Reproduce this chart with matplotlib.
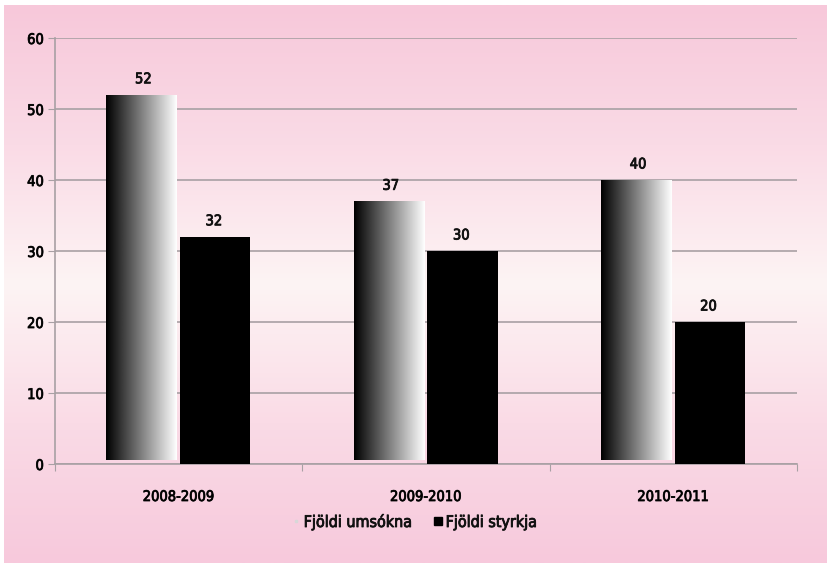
import matplotlib
matplotlib.use("Agg")
import matplotlib.pyplot as plt
import numpy as np
from matplotlib.colors import LinearSegmentedColormap
from matplotlib.lines import Line2D
import matplotlib.patheffects as pe

plt.rcParams['font.family'] = ['DejaVu Sans']
plt.rcParams['font.stretch'] = 'condensed'
plt.rcParams['text.color'] = '#111111'

categories = ["2008-2009", "2009-2010", "2010-2011"]
umsokna = [52, 37, 40]
styrkja = [32, 30, 20]
series_names = ["Fjöldi umsókna", "Fjöldi styrkja"]
yticks = [0, 10, 20, 30, 40, 50, 60]

FS = 10.5
# slightly heavier strokes, like a medium weight
heavy = [pe.withStroke(linewidth=0.6, foreground="#111111")]

fig = plt.figure(figsize=(8.28, 5.63), dpi=100, facecolor="white")

# pink background gradient (pink top/bottom, almost white in the middle)
bg = fig.add_axes([4 / 828, 0, 1 - 4 / 828, 1 - 5 / 563], zorder=-10)
bg_cmap = LinearSegmentedColormap.from_list(
    "bg", [(0, "#f7c8da"), (0.25, "#fadbe6"), (0.5, "#fdf4f4"),
           (0.75, "#fadbe6"), (1, "#f7c9dc")])
bg.imshow(np.linspace(0, 1, 256).reshape(-1, 1), aspect="auto",
          cmap=bg_cmap, extent=[0, 1, 0, 1])
bg.axis("off")

ax = fig.add_axes([55 / 828, 1 - 464 / 563, 742 / 828, (464 - 38) / 563])
ax.patch.set_alpha(0)

x = np.arange(len(categories))
w = 0.285
grad_cmap = LinearSegmentedColormap.from_list("bar", ["#000000", "#ffffff"])
grad = np.linspace(0, 1, 256).reshape(1, -1)

for xi, v in zip(x, umsokna):
    left = xi - w - 0.008
    b = ax.bar(left, v - 0.55, width=w, bottom=0.55, align="edge",
               color="none", edgecolor="none", zorder=3)[0]
    im = ax.imshow(grad, aspect="auto", cmap=grad_cmap,
                   extent=[left, left + w, 0.55, v], zorder=3)
    im.set_clip_path(b)
    ax.text(xi - w / 2, v + 1.2, str(v), ha="center", va="bottom",
            fontsize=FS, path_effects=heavy)

for xi, v in zip(x, styrkja):
    ax.bar(xi + 0.005, v, width=w, align="edge", color="black", zorder=3)
    ax.text(xi + w / 2, v + 1.2, str(v), ha="center", va="bottom",
            fontsize=FS, path_effects=heavy)

ax.set_xlim(-0.5, 2.5)
ax.set_ylim(0, 60)
ax.set_yticks(yticks)
ax.set_yticklabels([str(t) for t in yticks], fontsize=FS)
ax.yaxis.grid(True, color="#a8a0a4", linewidth=1.2)
ax.set_axisbelow(True)

ax.set_xticks([-0.5, 0.5, 1.5, 2.5])
ax.set_xticklabels([])
ax.set_xticks(x, minor=True)
ax.set_xticklabels(categories, minor=True, fontsize=FS)
ax.tick_params(axis="x", which="minor", length=0, pad=18)
ax.tick_params(axis="x", which="major", length=5, color="#a8a0a4")
ax.tick_params(axis="y", length=5, color="#a8a0a4", pad=3)
for lbl in ax.get_yticklabels() + ax.get_xticklabels(minor=True):
    lbl.set_path_effects(heavy)

for s in ["top", "right"]:
    ax.spines[s].set_visible(False)
for s in ["left", "bottom"]:
    ax.spines[s].set_color("#a8a0a4")
    ax.spines[s].set_linewidth(1.2)

handles = [
    Line2D([], [], marker="s", ls="", color="#d8d8d8", markersize=2),
    Line2D([], [], marker="s", ls="", color="black", markersize=6),
]
leg = fig.legend(handles, series_names, loc="center",
                 bbox_to_anchor=(0.5, 1 - 522 / 563), ncol=2, frameon=False,
                 fontsize=11.5, handlelength=0.6, handletextpad=0.2,
                 columnspacing=1.3)
for t in leg.get_texts():
    t.set_path_effects(heavy)

fig.savefig("out.png", dpi=100, facecolor="white")
